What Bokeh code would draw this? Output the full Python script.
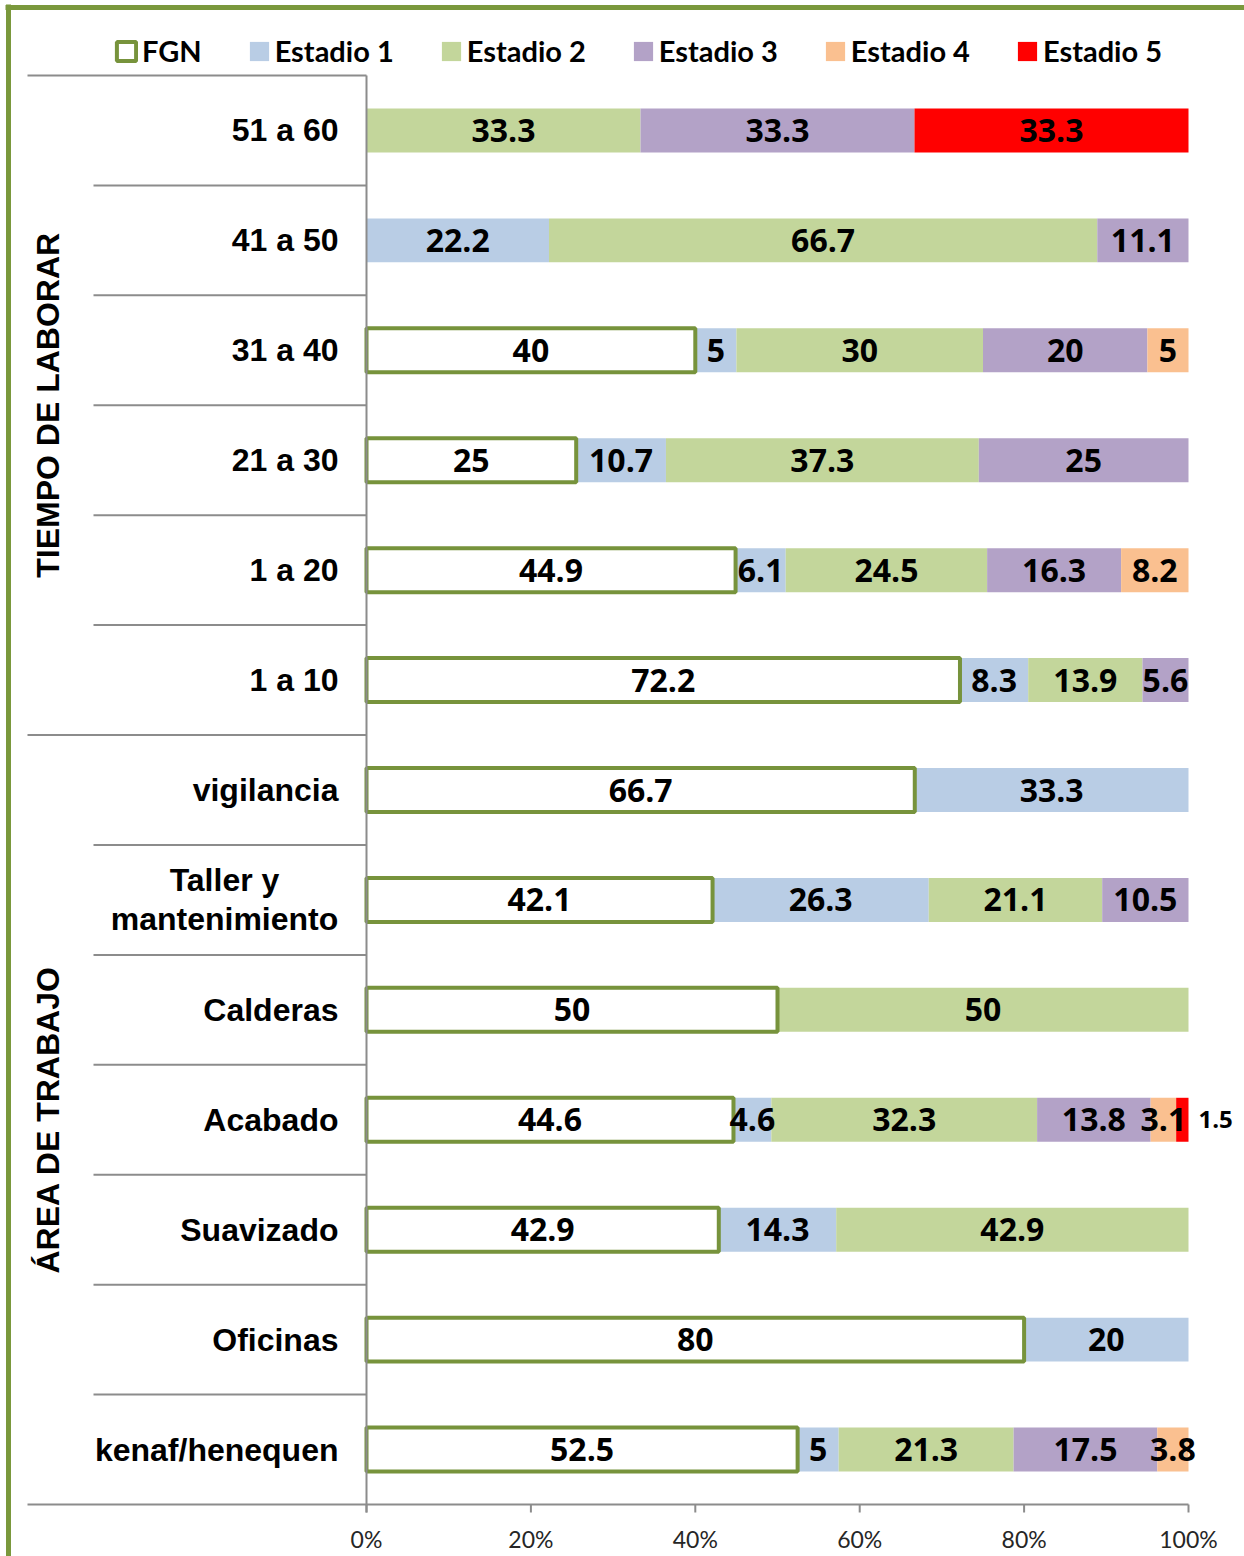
import math
from bokeh.plotting import figure
from bokeh.models import Range1d, ColumnDataSource, Legend, LegendItem
from bokeh.core.properties import value
from bokeh.embed import file_html
from bokeh.resources import INLINE

# ---------------- data ----------------
categories = ["51 a 60", "41 a 50", "31 a 40", "21 a 30", "1 a 20", "1 a 10",
              "vigilancia", "Taller y\nmantenimiento", "Calderas", "Acabado",
              "Suavizado", "Oficinas", "kenaf/henequen"]
groups = ["TIEMPO DE LABORAR", "ÁREA DE TRABAJO"]
group_sizes = [6, 7]

series_names = ["FGN", "Estadio 1", "Estadio 2", "Estadio 3", "Estadio 4", "Estadio 5"]
fgn       = [0,    0,    40, 25,   44.9, 72.2, 66.7, 42.1, 50, 44.6, 42.9, 80, 52.5]
estadio1  = [0,    22.2, 5,  10.7, 6.1,  8.3,  33.3, 26.3, 0,  4.6,  14.3, 20, 5]
estadio2  = [33.3, 66.7, 30, 37.3, 24.5, 13.9, 0,    21.1, 50, 32.3, 42.9, 0,  21.3]
estadio3  = [33.3, 11.1, 20, 25,   16.3, 5.6,  0,    10.5, 0,  13.8, 0,    0,  17.5]
estadio4  = [0,    0,    5,  0,    8.2,  0,    0,    0,    0,  3.1,  0,    0,  3.8]
estadio5  = [33.3, 0,    0,  0,    0,    0,    0,    0,    0,  1.5,  0,    0,  0]
x_ticks = [0, 20, 40, 60, 80, 100]

series_values = [fgn, estadio1, estadio2, estadio3, estadio4, estadio5]
fill_colors = ["#FFFFFF", "#B9CDE5", "#C3D69B", "#B3A2C7", "#FAC090", "#FF0000"]
GREEN = "#77933C"
GRID = "#8C8C8C"

# ---------------- layout (pixels) ----------------
W, H = 1244, 1556
X0, X1 = 366, 1188          # 0% and 100%
Y_TOP, Y_BOT = 75, 1504     # plot area top / bottom
n = len(categories)
sx = (X1 - X0) / 100.0
sy = (Y_BOT - Y_TOP) / n


def px_x(px):
    return (px - X0) / sx


def px_y(py):
    return (Y_BOT - py) / sy


p = figure(width=W, height=H, output_backend="svg", toolbar_location=None,
           x_range=Range1d(px_x(0), px_x(W)), y_range=Range1d(px_y(H), px_y(0)),
           x_axis_location=None, y_axis_location=None,
           min_border=0, min_border_left=0, min_border_right=0,
           min_border_top=0, min_border_bottom=0)
p.grid.visible = False
p.outline_line_color = None
p.background_fill_color = "white"
p.border_fill_color = "white"

# normalise to 100 % stacked
totals = [sum(s[i] for s in series_values) for i in range(n)]
y_center = [n - i - 0.5 for i in range(n)]

lefts = [0.0] * n
renderers = {}
label_x, label_y, label_t = [], [], []
out_x, out_y, out_t = [], [], []
bar_sources = []
for k, (name, vals) in enumerate(zip(series_names, series_values)):
    L, R, Y = [], [], []
    for i in range(n):
        share = vals[i] / totals[i] * 100.0
        if vals[i] > 0:
            L.append(lefts[i])
            R.append(lefts[i] + share)
            Y.append(y_center[i])
            txt = f"{vals[i]:g}"
            if share < 2.0:
                out_x.append(lefts[i] + share)
                out_y.append(y_center[i])
                out_t.append(txt)
            else:
                label_x.append(lefts[i] + share / 2)
                label_y.append(y_center[i])
                label_t.append(txt)
        lefts[i] += share
    bar_sources.append((name, ColumnDataSource(dict(left=L, right=R, y=Y)), k))

# draw coloured stages first, FGN (outlined) on top
for name, src, k in bar_sources[1:] + bar_sources[:1]:
    if k == 0:
        r = p.hbar(y="y", left="left", right="right", height=0.4, source=src,
                   fill_color=fill_colors[k], line_color=GREEN, line_width=4)
    else:
        r = p.hbar(y="y", left="left", right="right", height=0.4, source=src,
                   fill_color=fill_colors[k], line_color=None)
    renderers[name] = r

# data labels
p.text(x=label_x, y=label_y, text=label_t, text_align="center", text_baseline="middle",
       text_font=value("Open Sans"), text_font_style="bold", text_font_size="32px",
       text_color="black")
p.text(x=[v + px_x(X0 + 10) for v in out_x], y=out_y, text=out_t, text_align="left",
       text_baseline="middle", text_font=value("Open Sans"), text_font_style="bold",
       text_font_size="24px", text_color="black")

# category labels
single = [(c, yc) for c, yc in zip(categories, y_center) if "\n" not in c]
multi = [(c, yc) for c, yc in zip(categories, y_center) if "\n" in c]
p.text(x=[px_x(338)] * len(single), y=[yc for _, yc in single], text=[c for c, _ in single],
       text_align="right", text_baseline="middle", text_font=value("Liberation Sans"),
       text_font_style="bold", text_font_size="32px", text_color="black")
if multi:
    p.text(x=[px_x(224)] * len(multi), y=[yc for _, yc in multi], text=[c for c, _ in multi],
           text_align="center", text_baseline="middle", text_font=value("Liberation Sans"),
           text_font_style="bold", text_font_size="32px", text_color="black",
           text_line_height=1.08)

# separators between categories / groups
acc = 0
group_edges = {0, n}
for gs in group_sizes:
    acc += gs
    group_edges.add(acc)
for b in range(n + 1):
    yb = n - b
    x_start = px_x(27) if b in group_edges else px_x(93)
    x_end = 100 if b == n else 0
    p.segment(x0=[x_start], y0=[yb], x1=[x_end], y1=[yb], line_color=GRID, line_width=2)

# vertical axis line
p.segment(x0=[0], y0=[px_y(Y_BOT + 8)], x1=[0], y1=[n], line_color=GRID, line_width=2)
# bottom ticks and labels
p.segment(x0=x_ticks, y0=[px_y(Y_BOT + 8)] * len(x_ticks), x1=x_ticks,
          y1=[0] * len(x_ticks), line_color=GRID, line_width=2)
p.text(x=x_ticks, y=[px_y(1538)] * len(x_ticks), text=[f"{t}%" for t in x_ticks],
       text_align="center", text_baseline="middle", text_font=value("Lato"),
       text_font_size="23px", text_color="#262626")

# group labels (rotated)
acc = 0
gx, gy = [], []
for gs in group_sizes:
    gy.append(n - acc - gs / 2)
    gx.append(px_x(47))
    acc += gs
p.text(x=gx, y=gy, text=groups, angle=math.pi / 2, text_align="center",
       text_baseline="middle", text_font=value("Liberation Sans"), text_font_style="bold",
       text_font_size="32px", text_color="black")

# outer green frame (left and top)
p.segment(x0=[px_x(8), px_x(5)], y0=[px_y(H + 5), px_y(7)],
          x1=[px_x(8), px_x(W + 5)], y1=[px_y(4), px_y(7)],
          line_color="#7A983C", line_width=5)

# legend
items = [LegendItem(label=nm, renderers=[renderers[nm]]) for nm in series_names]
legend = Legend(items=items, orientation="horizontal", location=(114, H - 68),
                glyph_width=24, glyph_height=24, label_standoff=4, spacing=45,
                padding=0, margin=0, border_line_color=None, background_fill_alpha=0,
                label_text_font="Lato", label_text_font_style="bold",
                label_text_font_size="29px", label_text_color="black")
p.add_layout(legend)

open("out.html", "w").write(file_html(p, INLINE))
